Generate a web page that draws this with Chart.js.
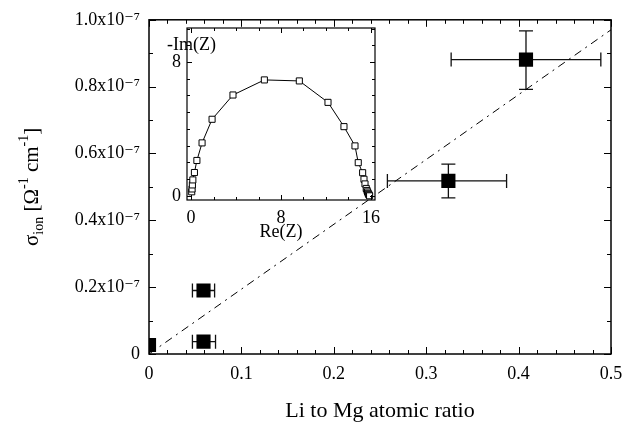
<!DOCTYPE html>
<html>
<head>
<meta charset="utf-8">
<script src="https://cdn.jsdelivr.net/npm/chart.js@4"></script>
<style>
  body { margin: 0; background: #fff; }
  #wrap { position: relative; width: 623px; height: 427px; }
  #mainChart { position: absolute; left: 0; top: 0; }
  #insetChart { position: absolute; left: 150px; top: 0; }
</style>
</head>
<body>
<div id="wrap">
  <canvas id="mainChart" width="623" height="427"></canvas>
  <canvas id="insetChart" width="240" height="250"></canvas>
</div>
<script>
// main plot: Li/Mg ratio vs ionic conductivity (units of 1e-7)
const ratio = [0.0, 0.059, 0.059, 0.324, 0.408];
const ratioLow = [0.0, 0.047, 0.047, 0.258, 0.327];
const ratioHigh = [0.0, 0.071, 0.072, 0.387, 0.489];
const sigma = [0.027, 0.19, 0.037, 0.518, 0.881];
const sigmaLow = [0.027, 0.19, 0.037, 0.467, 0.792];
const sigmaHigh = [0.027, 0.19, 0.037, 0.568, 0.967];

// dash-dot guide line
const fitX = [0, 0.5];
const fitY = [0, 0.97];

const xTickValues = [0, 0.1, 0.2, 0.3, 0.4, 0.5];
const yTickValues = [0, 0.2, 0.4, 0.6, 0.8, 1.0];

// inset: impedance plot
const reZ = [0.06, 0.09, 0.12, 0.16, 0.30, 0.52, 0.98, 1.87, 3.73, 6.52, 9.63, 12.18, 13.6, 14.58, 14.87, 15.26, 15.38, 15.47, 15.58, 15.65, 15.7, 15.75, 15.8, 15.84, 15.88];
const imZ = [0.25, 0.42, 0.66, 0.96, 1.40, 2.12, 3.17, 4.58, 6.03, 6.93, 6.87, 5.59, 4.14, 2.99, 1.99, 1.39, 1.0, 0.72, 0.45, 0.33, 0.24, 0.16, 0.1, 0.05, 0.01];
const insetXTicks = [0, 8, 16];
const insetYTicks = [0, 8];

const serif = "'Liberation Serif', 'DejaVu Serif', serif";

// inward ticks + closed frame
function frameTicks(opts) {
    return {
        id: 'frameTicks',
        afterDraw(chart) {
            const ctx = chart.ctx;
            const a = chart.chartArea;
            const xs = chart.scales.x, ys = chart.scales.y;
            ctx.save();
            ctx.strokeStyle = '#000';
            ctx.lineWidth = opts.frameWidth;
            ctx.strokeRect(a.left, a.top, a.right - a.left, a.bottom - a.top);
            ctx.lineWidth = 1;
            ctx.beginPath();
            const nx = Math.round((xs.max - xs.min) / opts.xMinor);
            for (let i = 0; i <= nx; i++) {
                const v = opts.xStart + i * opts.xMinor;
                if (v > xs.max + 1e-9) break;
                const major = Math.abs(v / opts.xMajor - Math.round(v / opts.xMajor)) < 1e-6;
                const len = major ? opts.majorLen : opts.minorLen;
                const px = Math.round(xs.getPixelForValue(v)) + 0.5;
                ctx.moveTo(px, a.bottom); ctx.lineTo(px, a.bottom - len);
                ctx.moveTo(px, a.top); ctx.lineTo(px, a.top + len);
            }
            const ny = Math.round((ys.max - ys.min) / opts.yMinor);
            for (let i = 0; i <= ny; i++) {
                const v = opts.yStart + i * opts.yMinor;
                if (v > ys.max + 1e-9) break;
                const major = Math.abs(v / opts.yMajor - Math.round(v / opts.yMajor)) < 1e-6;
                const len = major ? opts.majorLen : opts.minorLen;
                const py = Math.round(ys.getPixelForValue(v)) + 0.5;
                ctx.moveTo(a.left, py); ctx.lineTo(a.left + len, py);
                ctx.moveTo(a.right, py); ctx.lineTo(a.right - len, py);
            }
            ctx.stroke();
            ctx.restore();
        }
    };
}

const errorBars = {
    id: 'errorBars',
    beforeDatasetsDraw(chart) {
        const ctx = chart.ctx;
        const xs = chart.scales.x, ys = chart.scales.y;
        const cap = 7;
        ctx.save();
        ctx.strokeStyle = '#111';
        ctx.lineWidth = 1.3;
        ctx.beginPath();
        for (let i = 0; i < ratio.length; i++) {
            const px = xs.getPixelForValue(ratio[i]);
            const py = ys.getPixelForValue(sigma[i]);
            if (ratioHigh[i] > ratioLow[i]) {
                const x1 = xs.getPixelForValue(ratioLow[i]);
                const x2 = xs.getPixelForValue(ratioHigh[i]);
                ctx.moveTo(x1, py); ctx.lineTo(x2, py);
                ctx.moveTo(x1, py - cap); ctx.lineTo(x1, py + cap);
                ctx.moveTo(x2, py - cap); ctx.lineTo(x2, py + cap);
            }
            if (sigmaHigh[i] > sigmaLow[i]) {
                const y1 = ys.getPixelForValue(sigmaLow[i]);
                const y2 = ys.getPixelForValue(sigmaHigh[i]);
                ctx.moveTo(px, y1); ctx.lineTo(px, y2);
                ctx.moveTo(px - cap, y1); ctx.lineTo(px + cap, y1);
                ctx.moveTo(px - cap, y2); ctx.lineTo(px + cap, y2);
            }
        }
        ctx.stroke();
        ctx.restore();
    }
};

// y title with sub/superscripts
const yTitle = {
    id: 'yTitle',
    afterDraw(chart) {
        const ctx = chart.ctx;
        const a = chart.chartArea;
        const parts = [
            { t: '\u03c3', f: 21, dy: 0 },
            { t: 'ion', f: 14, dy: 5 },
            { t: ' [\u03a9', f: 21, dy: 0 },
            { t: '-1', f: 14, dy: -10 },
            { t: ' cm', f: 21, dy: 0 },
            { t: '-1', f: 14, dy: -10 },
            { t: ']', f: 21, dy: 0 }
        ];
        ctx.save();
        ctx.fillStyle = '#000';
        ctx.textBaseline = 'alphabetic';
        ctx.textAlign = 'left';
        let total = 0;
        parts.forEach(p => { ctx.font = p.f + 'px ' + serif; p.w = ctx.measureText(p.t).width; total += p.w; });
        ctx.translate(38, (a.top + a.bottom) / 2);
        ctx.rotate(-Math.PI / 2);
        let x = -total / 2;
        parts.forEach(p => {
            ctx.font = p.f + 'px ' + serif;
            ctx.fillText(p.t, x, p.dy);
            x += p.w;
        });
        ctx.restore();
    }
};

new Chart(document.getElementById('mainChart'), {
    type: 'scatter',
    data: {
        datasets: [{
            data: ratio.map((x, i) => ({ x: x, y: sigma[i] })),
            pointStyle: 'rect',
            pointRadius: 10,
            pointHoverRadius: 10,
            backgroundColor: '#000',
            borderColor: '#000',
            borderWidth: 0,
            clip: 0
        }, {
            type: 'line',
            data: fitX.map((x, i) => ({ x: x, y: fitY[i] })),
            borderColor: '#000',
            borderWidth: 1,
            borderDash: [8, 5, 2, 5],
            pointRadius: 0,
            fill: false
        }]
    },
    options: {
        responsive: false,
        animation: false,
        layout: { padding: { top: 18, right: 12, left: 0, bottom: 0 } },
        plugins: { legend: { display: false }, tooltip: { enabled: false } },
        scales: {
            x: {
                type: 'linear', min: 0, max: 0.5,
                afterBuildTicks: s => { s.ticks = xTickValues.map(v => ({ value: v })); },
                afterFit: s => { s.height = 73; s.paddingRight = 0; s.paddingLeft = 0; },
                grid: { display: false, drawTicks: false },
                border: { display: false },
                ticks: {
                    padding: 9, color: '#000',
                    font: { family: serif, size: 18 },
                    callback: v => v === 0 ? '0' : v.toFixed(1)
                },
                title: {
                    display: true, text: 'Li to Mg atomic ratio', color: '#000',
                    font: { family: serif, size: 22, lineHeight: 1.2 },
                    padding: { top: 0, bottom: 3 }
                }
            },
            y: {
                type: 'linear', min: 0, max: 1.0,
                afterBuildTicks: s => { s.ticks = yTickValues.map(v => ({ value: v })); },
                afterFit: s => { s.width = 149; },
                grid: { display: false, drawTicks: false },
                border: { display: false },
                ticks: {
                    padding: 9, color: '#000',
                    font: { family: serif, size: 18 },
                    callback: v => v === 0 ? '0' : v.toFixed(1) + 'x10\u207b\u2077'
                }
            }
        }
    },
    plugins: [errorBars, frameTicks({
        frameWidth: 1.5, majorLen: 7, minorLen: 4,
        xStart: 0, xMinor: 0.02, xMajor: 0.1,
        yStart: 0, yMinor: 0.1, yMajor: 0.2
    }), yTitle]
});

const insetBg = {
    id: 'insetBg',
    beforeDraw(chart) {
        const a = chart.chartArea;
        const ctx = chart.ctx;
        ctx.save();
        ctx.fillStyle = '#fff';
        ctx.fillRect(a.left, a.top, a.right - a.left, a.bottom - a.top);
        ctx.restore();
    },
    afterDraw(chart) {
        const a = chart.chartArea;
        const ctx = chart.ctx;
        ctx.save();
        ctx.fillStyle = '#000';
        ctx.font = '18px ' + serif;
        ctx.textAlign = 'left';
        ctx.textBaseline = 'middle';
        ctx.fillText('-Im(Z)', a.left - 20, a.top + 17);
        ctx.restore();
    }
};

new Chart(document.getElementById('insetChart'), {
    type: 'scatter',
    data: {
        datasets: [{
            data: reZ.map((x, i) => ({ x: x, y: imZ[i] })),
            showLine: true,
            borderColor: '#000',
            borderWidth: 1,
            tension: 0,
            pointStyle: 'rect',
            pointRadius: 4.3,
            pointHoverRadius: 4.3,
            pointBackgroundColor: '#fff',
            pointBorderColor: '#000',
            pointBorderWidth: 1
        }]
    },
    options: {
        responsive: false,
        animation: false,
        layout: { padding: { top: 28, right: 15, left: 0, bottom: 0 } },
        plugins: { legend: { display: false }, tooltip: { enabled: false } },
        scales: {
            x: {
                type: 'linear', min: -0.36, max: 16.36,
                afterBuildTicks: s => { s.ticks = insetXTicks.map(v => ({ value: v })); },
                afterFit: s => { s.height = 50; s.paddingRight = 0; s.paddingLeft = 0; },
                grid: { display: false, drawTicks: false },
                border: { display: false },
                ticks: { padding: 7, color: '#000', font: { family: serif, size: 18 } },
                title: {
                    display: true, text: 'Re(Z)', color: '#000',
                    font: { family: serif, size: 18, lineHeight: 1.2 },
                    padding: { top: 0, bottom: 7 }
                }
            },
            y: {
                type: 'linear', min: -0.24, max: 10.03,
                afterBuildTicks: s => { s.ticks = insetYTicks.map(v => ({ value: v })); },
                afterFit: s => { s.width = 37; },
                grid: { display: false, drawTicks: false },
                border: { display: false },
                ticks: { padding: 6, color: '#000', font: { family: serif, size: 18 } }
            }
        }
    },
    plugins: [insetBg, frameTicks({
        frameWidth: 1.2, majorLen: 5, minorLen: 3,
        xStart: 0, xMinor: 2, xMajor: 8,
        yStart: 0, yMinor: 1, yMajor: 8
    })]
});
</script>
</body>
</html>
